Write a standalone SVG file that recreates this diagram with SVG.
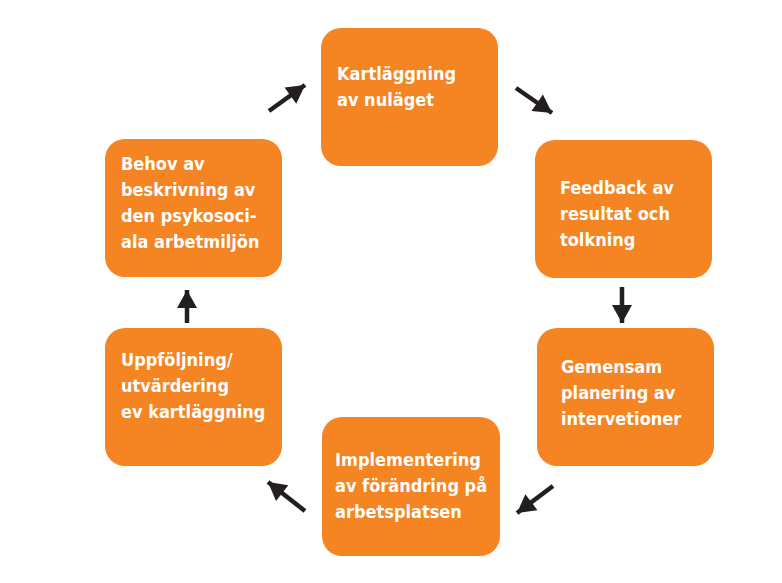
<svg xmlns="http://www.w3.org/2000/svg" width="782" height="583" viewBox="0 0 782 583">
<style>
.box{fill:#F58422;}
.t{font-family:"DejaVu Sans Condensed","DejaVu Sans","Liberation Sans",sans-serif;font-weight:bold;font-size:18px;fill:#ffffff;}
.c{stroke:#231F20;stroke-width:4.5;fill:none;}
</style>
<defs>
<marker id="ah" markerUnits="userSpaceOnUse" markerWidth="22" markerHeight="22" viewBox="0 0 22 22" refX="20" refY="11" orient="auto">
<path d="M2,1 L20,11 L2,21 Z" fill="#231F20"/>
</marker>
</defs>
<rect width="782" height="583" fill="#ffffff"/>
<g id="n1"><rect class="box" x="321" y="28" width="177" height="138" rx="20"/>
<text class="t" x="337" y="80">Kartläggning</text><text class="t" x="337" y="106">av nuläget</text></g>
<g id="n2"><rect class="box" x="535" y="140" width="177" height="138" rx="20"/>
<text class="t" x="560" y="194">Feedback av</text><text class="t" x="560" y="220">resultat och</text><text class="t" x="560" y="246">tolkning</text></g>
<g id="n3"><rect class="box" x="537" y="328" width="177" height="138" rx="20"/>
<text class="t" x="561" y="373">Gemensam</text><text class="t" x="561" y="399">planering av</text><text class="t" x="561" y="425">intervetioner</text></g>
<g id="n4"><rect class="box" x="322" y="417" width="178" height="139" rx="20"/>
<text class="t" x="335" y="466">Implementering</text><text class="t" x="335" y="492">av förändring på</text><text class="t" x="335" y="518">arbetsplatsen</text></g>
<g id="n5"><rect class="box" x="105" y="328" width="177" height="138" rx="20"/>
<text class="t" x="121" y="366">Uppföljning/</text><text class="t" x="121" y="392">utvärdering</text><text class="t" x="121" y="418">ev kartläggning</text></g>
<g id="n6"><rect class="box" x="105" y="139" width="177" height="138" rx="20"/>
<text class="t" x="121" y="170">Behov av</text><text class="t" x="121" y="196">beskrivning av</text><text class="t" x="121" y="222">den psykosoci-</text><text class="t" x="121" y="248">ala arbetmiljön</text></g>
<g id="connectors">
<line class="c" x1="269" y1="111" x2="305" y2="85" marker-end="url(#ah)"/>
<line class="c" x1="516" y1="88" x2="552" y2="113" marker-end="url(#ah)"/>
<line class="c" x1="622" y1="287" x2="622" y2="323" marker-end="url(#ah)"/>
<line class="c" x1="553" y1="486" x2="517" y2="513" marker-end="url(#ah)"/>
<line class="c" x1="305" y1="511" x2="268" y2="482" marker-end="url(#ah)"/>
<line class="c" x1="187" y1="323" x2="187" y2="290" marker-end="url(#ah)"/>
</g>
</svg>
